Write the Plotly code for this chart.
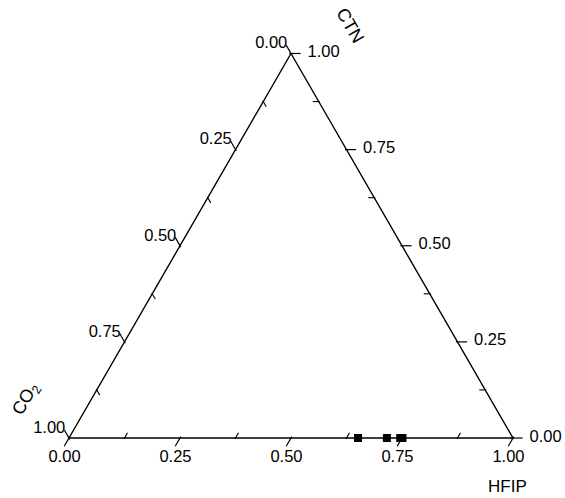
import math
import plotly.graph_objects as go

# ---- Data (ternary compositions, mole fractions) ----
hfip = [0.651, 0.716, 0.746, 0.751]
ctn = [0.0, 0.0, 0.0, 0.0]
co2 = [round(1 - h - c, 3) for h, c in zip(hfip, ctn)]

major_ticks = [0.0, 0.25, 0.5, 0.75, 1.0]
minor_ticks = [0.125, 0.375, 0.625, 0.875]
tick_labels = ["0.00", "0.25", "0.50", "0.75", "1.00"]

FONT = "Liberation Sans, Arial, Helvetica, sans-serif"
W, HGT = 565, 498
# data triangle in pixels
BL_X, BR_X, BOT_Y = 69, 513, 438
SIDE = BR_X - BL_X
H = math.sqrt(3) / 2
# padding of the ternary frame around the data triangle (in composition units),
# so ticks/labels just outside the edges remain visible
PA, PB, PC = 0.035, 0.045, 0.015
TSUM = 1 + PA + PB + PC


def to_px(a, b, c):
    return BL_X + SIDE * (0.5 * a + c), BOT_Y - SIDE * H * a


def shift(a, b, c, dx, dy):
    """Move a composition point by (dx right, dy down) pixels."""
    da = -dy / (SIDE * H)
    dc = dx / SIDE - 0.5 * da
    db = -da - dc
    return a + da, b + db, c + dc


def tern(pts):
    """Convert composition triples to padded ternary coordinates."""
    return ([p[0] + PA for p in pts], [p[1] + PB for p in pts], [p[2] + PC for p in pts])


# padded ternary frame -> domain
top_px = to_px(1 + PB + PC, -PB, -PC)
bl_px = to_px(-PA, 1 + PA + PC, -PC)
br_px = to_px(-PA, -PB, 1 + PA + PB)
dom_x = [bl_px[0] / W, br_px[0] / W]
dom_y = [1 - bl_px[1] / HGT, 1 - top_px[1] / HGT]


def left_pt(v):    # CO2 axis on the left edge
    return 1 - v, v, 0.0


def bottom_pt(v):  # HFIP axis on the bottom edge
    return 0.0, 1 - v, v


def right_pt(v):   # CTN axis on the right edge
    return v, 0.0, 1 - v


edges = [
    # point fn, outward tick dir, label offset (px), textposition, tick angle
    (left_pt, (-0.5, -H), (-3.7, -1.0), "top left", -30),
    (bottom_pt, (-0.5, H), (-4.5, 11.25), "bottom center", 30),
    (right_pt, (1.0, 0.0), (16.5, -0.5), "middle right", 90),
]

fig = go.Figure()

# triangle outline
a_, b_, c_ = tern([(1, 0, 0), (0, 1, 0), (0, 0, 1), (1, 0, 0)])
fig.add_trace(go.Scatterternary(
    a=a_, b=b_, c=c_, mode="lines",
    line=dict(color="black", width=1.4), hoverinfo="skip", showlegend=False))

MAJ_LEN, MIN_LEN = 8, 5
for fn, (ux, uy), (lx, ly), tpos, ang in edges:
    a_, b_, c_ = tern([shift(*fn(v), ux * MAJ_LEN / 2, uy * MAJ_LEN / 2) for v in major_ticks])
    fig.add_trace(go.Scatterternary(
        a=a_, b=b_, c=c_, mode="markers", cliponaxis=False, hoverinfo="skip",
        marker=dict(symbol="line-ns", size=MAJ_LEN, angle=ang, color="black",
                    line=dict(color="black", width=1.2)),
        showlegend=False))
    a_, b_, c_ = tern([shift(*fn(v), -ux * MIN_LEN / 2, -uy * MIN_LEN / 2) for v in minor_ticks])
    fig.add_trace(go.Scatterternary(
        a=a_, b=b_, c=c_, mode="markers", cliponaxis=False, hoverinfo="skip",
        marker=dict(symbol="line-ns", size=MIN_LEN, angle=ang, color="black",
                    line=dict(color="black", width=1.1)),
        showlegend=False))
    a_, b_, c_ = tern([shift(*fn(v), lx, ly) for v in major_ticks])
    fig.add_trace(go.Scatterternary(
        a=a_, b=b_, c=c_, mode="text", text=tick_labels, cliponaxis=False,
        textposition=tpos, hoverinfo="skip",
        textfont=dict(family=FONT, size=16.5, color="black"),
        showlegend=False))

# data points
a_, b_, c_ = tern(list(zip(ctn, co2, hfip)))
fig.add_trace(go.Scatterternary(
    a=a_, b=b_, c=c_, mode="markers",
    marker=dict(symbol="square", size=8, color="black"),
    cliponaxis=False, showlegend=False,
))

hidden_axis = dict(showgrid=False, showline=False, ticks="", showticklabels=False,
                   title=dict(text=""), min=0)

fig.update_layout(
    width=W, height=HGT,
    margin=dict(l=0, r=0, t=0, b=0),
    paper_bgcolor="white", plot_bgcolor="white",
    font=dict(family=FONT, size=17, color="black"),
    ternary=dict(
        domain=dict(x=dom_x, y=dom_y),
        bgcolor="rgba(0,0,0,0)", sum=TSUM,
        aaxis=hidden_axis, baxis=hidden_axis, caxis=hidden_axis,
    ),
    annotations=[
        dict(text="CTN", x=350 / W, y=1 - 25 / HGT, xref="paper", yref="paper",
             xanchor="center", yanchor="middle",
             showarrow=False, textangle=60, font=dict(size=18)),
        dict(text="HFIP", x=507.5 / W, y=1 - 486 / HGT, xref="paper", yref="paper",
             xanchor="center", yanchor="middle",
             showarrow=False, font=dict(size=17)),
        dict(text="CO<sub>2</sub>", x=26 / W, y=1 - 399 / HGT, xref="paper", yref="paper",
             xanchor="center", yanchor="middle",
             showarrow=False, textangle=-60, font=dict(size=18)),
    ],
)

fig.write_html(
    "out.html",
    config={"displayModeBar": False},
    post_script="document.body.style.margin='0';document.body.style.overflow='hidden';",
)
